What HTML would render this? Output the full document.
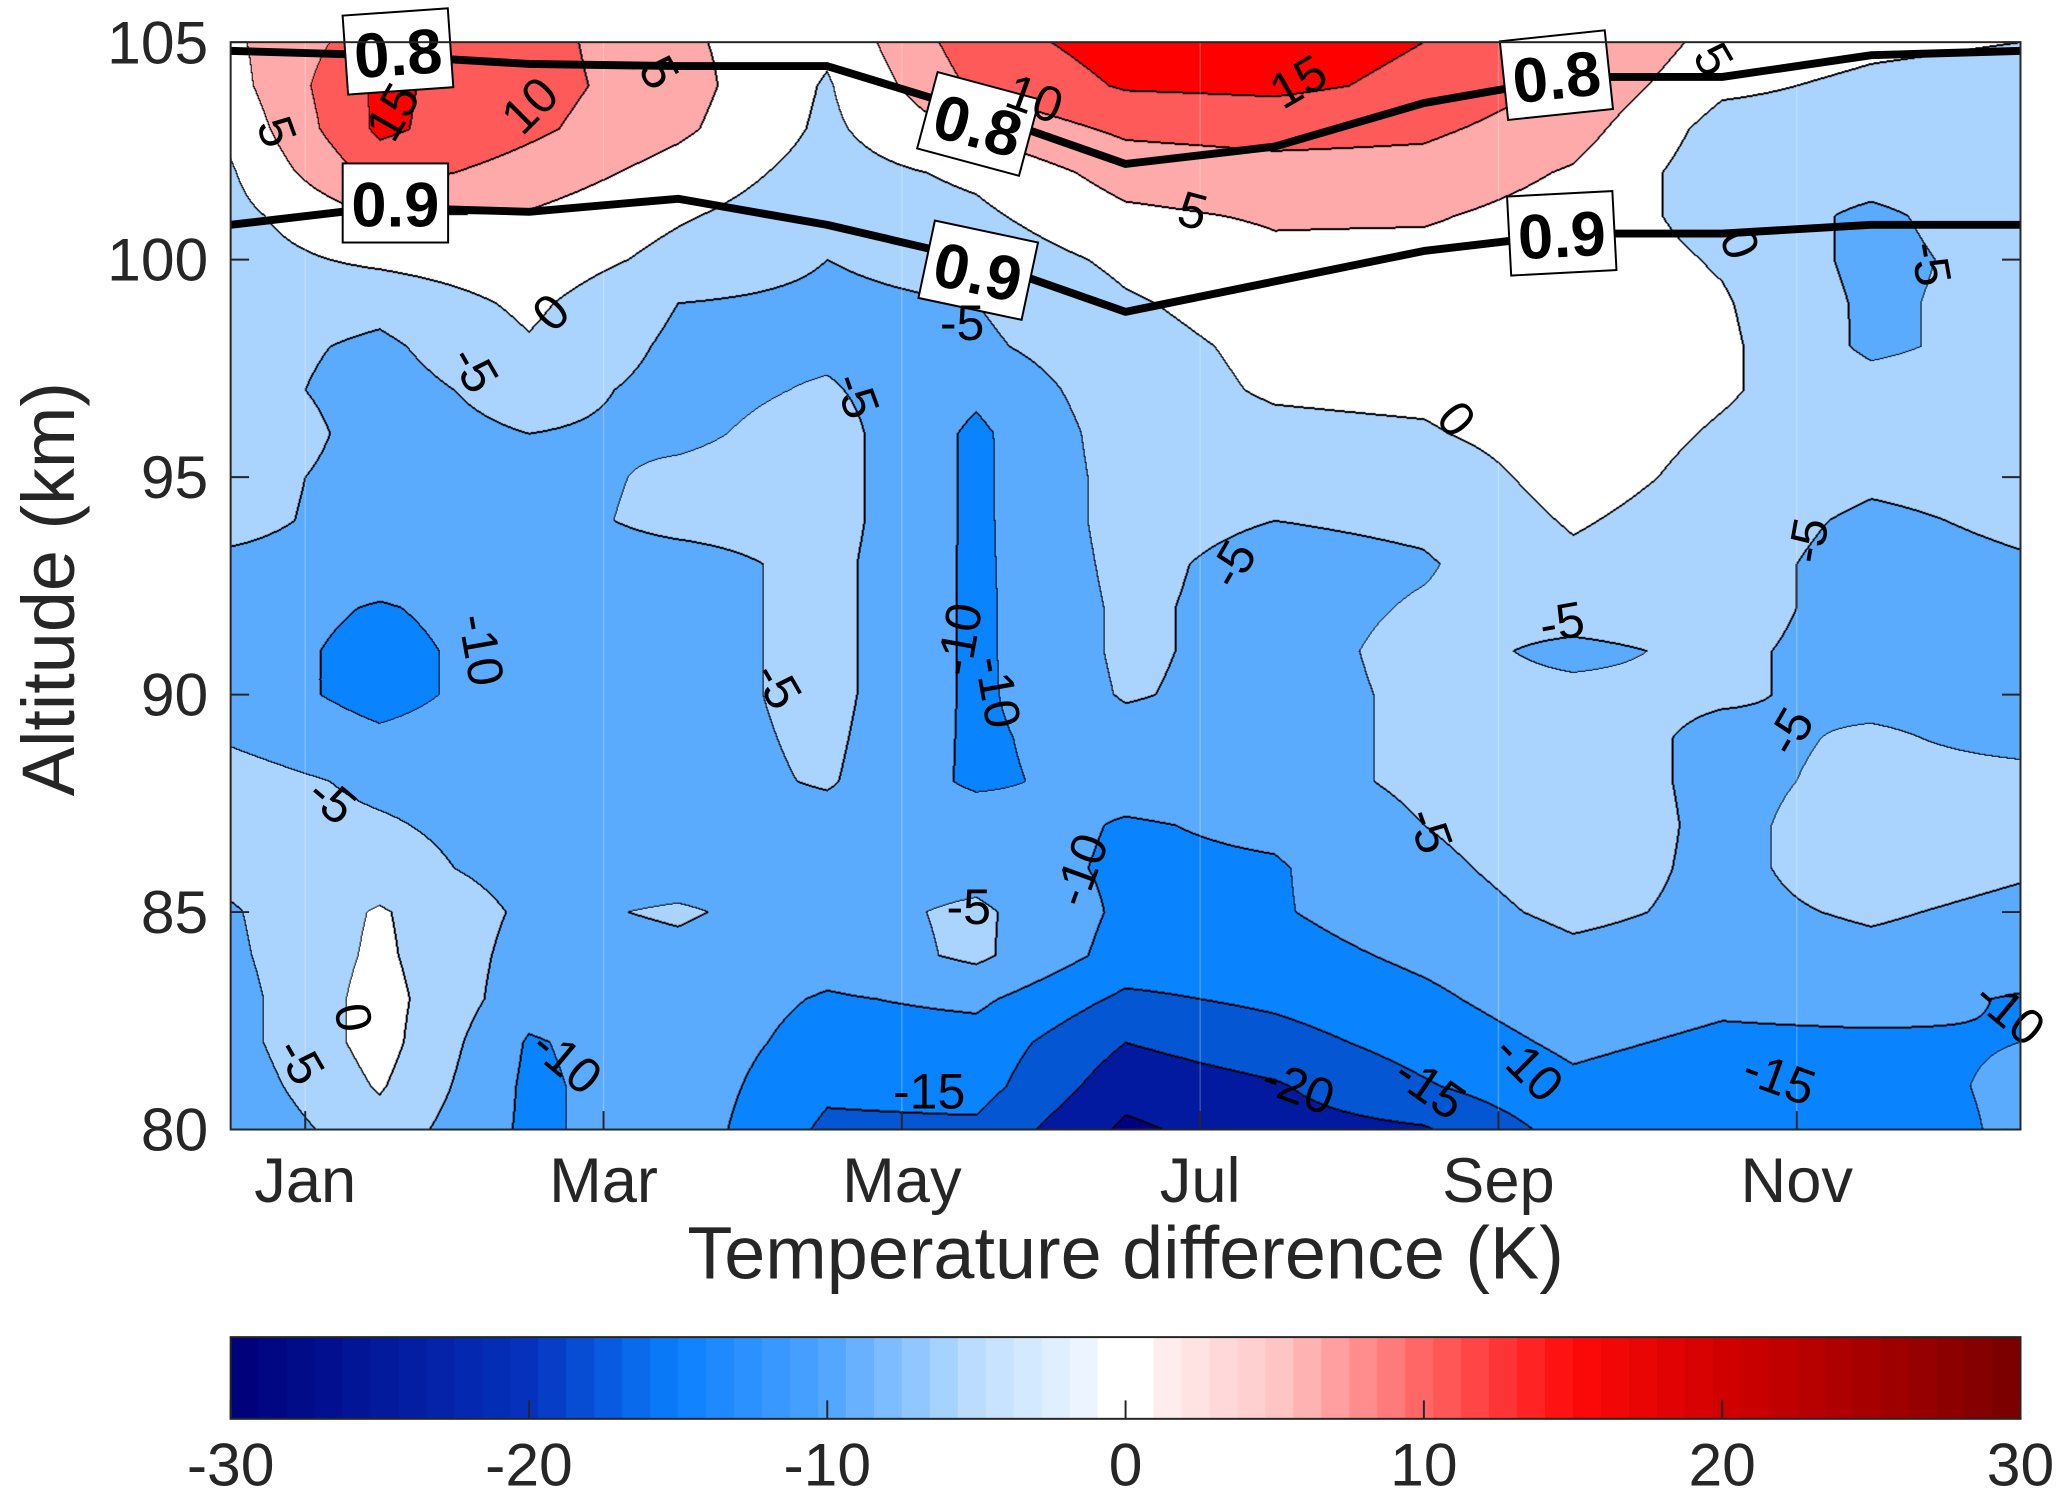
<!DOCTYPE html>
<html><head><meta charset="utf-8"><style>
html,body{margin:0;padding:0;background:#fff;width:2066px;height:1501px;overflow:hidden}
#wrap{position:absolute;left:0;top:0;width:1567px;height:1138px;overflow:hidden;transform:scale(1.318);transform-origin:0 0;font-family:"Liberation Sans",Arial,sans-serif;color:#262626}
#cv{position:absolute;left:175px;top:32px;width:1358px;height:825px}
svg{position:absolute;left:0;top:0}
</style></head><body>
<div id="wrap">
<canvas id="cv" width="1790" height="1088"></canvas>
<svg id="sv" width="1567" height="1138"></svg>
</div>
<script>
// altitudes 80..105 (1 km) per column, 13 columns from Jan (start) to Dec (end)
const altitudes=[80,81,82,83,84,85,86,87,88,89,90,91,92,93,94,95,96,97,98,99,100,101,102,103,104,105];
const col0=[-9,-8,-7,-7,-6,-5.5,-3.5,-3,-3,-5.5,-7,-7,-7,-6,-3.5,-3,-1,-3,-3,-2.5,-2,-1.5,-0.5,1,3,4];
const col1=[-2,0.5,2,2,1,0.5,-3,-4.5,-6,-9,-12,-12,-10.5,-7,-7,-7,-7,-7,-6,-3.5,1,5,12,16,16,13];
const col2=[-11,-11,-10.5,-8,-7,-6,-7,-7,-7,-7,-7,-7,-7,-7,-7,-7,-5,-3,-0.5,1,3,4.5,8,11,12,12];
const col3=[-7,-7,-7,-7,-6,-4.5,-7,-7,-7,-7,-7,-7,-7,-7,-3.5,-4,-6,-6.5,-6,-5,-1.5,0.5,3,6,7,6];
const col4=[-16,-14,-12,-10.5,-8,-7,-7,-7,-4.5,-4,-3.5,-3.5,-3.5,-3.5,-3,-3,-3,-4.5,-6,-6,-5,-3,-2,-1,-0.5,1];
const col5=[-16,-13,-12,-9,-4,-4,-7,-7,-11,-11,-11,-11,-11,-11,-11,-11,-11,-9,-6,-5,-3,-1,1,6,11,13];
const col6=[-26,-23,-20,-16,-12,-11,-11,-10.5,-8,-7,-4.5,-4,-4,-3.5,-3,-3,-2.5,-2,-1.5,-0.5,1,4,7,11,15.5,17];
const col7=[-22,-20.5,-17,-14,-12,-10.5,-10.5,-9,-7,-7,-7,-7,-7,-7,-5,-3,-1,0.5,1,2,4,5.5,8,12,16,17];
const col8=[-20.5,-15.5,-13,-11,-9,-7,-6,-5,-4,-4,-4,-3.5,-4.5,-5.5,-4,-3,-0.5,1,2,2.5,3.5,5.5,8,11,14,15];
const col9=[-13,-11,-9,-7,-6,-4,-3,-2.5,-3,-3,-4,-6,-3,-1,0.5,2,2.5,3,3,3,3,3,4.5,7,9,11];
const col10=[-15,-13,-11,-9,-7,-6,-6,-6,-6,-6,-4.5,-4,-3,-3,-2.5,-1.5,-0.5,0.5,1,0.5,-0.5,-2,-3,-2,1,3];
const col11=[-13,-12,-11,-8,-6,-4.5,-3,-3,-4,-4.5,-6,-7,-7,-7,-6,-4,-3,-3,-6,-6,-6.5,-6,-3,-2,-1,1];
const col12=[-9,-9,-10,-10.5,-7,-6,-4.5,-4,-4,-6,-6,-6,-6,-5.5,-4,-3,-2,-3,-3,-3,-3,-2,-2,-3,-2,0];
const columns=[col0,col1,col2,col3,col4,col5,col6,col7,col8,col9,col10,col11,col12];
// optical-depth contour lines (altitude at each column)
const line08=[104.8,104.7,104.5,104.45,104.45,103.4,102.2,102.6,103.6,104.2,104.2,104.7,104.8];
const line09=[100.8,101.2,101.1,101.4,100.8,100.0,98.8,99.5,100.2,100.6,100.6,100.8,100.8];
const monthLabels=["Jan","Mar","May","Jul","Sep","Nov"];
const monthPos=[0.5,2.5,4.5,6.5,8.5,10.5];
const altTicks=[80,85,90,95,100,105];
const cbTicks=[-30,-20,-10,0,10,20,30];

const PX0=175,PX1=1533,PY0=32,PY1=857;
const xS=c=>PX0+c*(PX1-PX0)/12;
const yS=a=>PY1-(a-80)*(PY1-PY0)/25;
const bandColors={"-6":"#000080","-5":"#021aa0","-4":"#0556d2","-3":"#0a84fe","-2":"#5aabfe","-1":"#aad4fe","0":"#ffffff","1":"#ffaaaa","2":"#ff5a5a","3":"#ff0000","4":"#c80000"};
function val(c,a){
  c=Math.max(0,Math.min(12,c));a=Math.max(0,Math.min(25,a));
  let i=Math.min(11,Math.floor(c)),j=Math.min(24,Math.floor(a));
  let fx=c-i,fy=a-j;
  let v00=columns[i][j],v10=columns[i+1][j],v01=columns[i][j+1],v11=columns[i+1][j+1];
  return v00*(1-fx)*(1-fy)+v10*fx*(1-fy)+v01*(1-fx)*fy+v11*fx*fy;
}
function band(v){let b=Math.floor(v/5);if(b<-6)b=-6;if(b>4)b=4;return b;}
function hex(h){return[parseInt(h.slice(1,3),16),parseInt(h.slice(3,5),16),parseInt(h.slice(5,7),16)];}
(function(){
  const cv=document.getElementById('cv'),ctx=cv.getContext('2d');
  const W=cv.width,H=cv.height;
  const img=ctx.createImageData(W,H);
  const B=new Int8Array(W*H);
  for(let y=0;y<H;y++)for(let x=0;x<W;x++){
    const c=(x+0.5)/W*12,a=25-(y+0.5)/H*25;
    B[y*W+x]=band(val(c,a));
  }
  const cache={};
  for(let y=0;y<H;y++)for(let x=0;x<W;x++){
    const k=y*W+x,b=B[k];
    let edge=(x<W-1&&B[k+1]!==b)||(y<H-1&&B[k+W]!==b)||(x>0&&B[k-1]!==b&&B[k-1]>b)||(y>0&&B[k-W]!==b&&B[k-W]>b);
    let col=edge?[0,0,0]:(cache[b]||(cache[b]=hex(bandColors[b])));
    img.data[k*4]=col[0];img.data[k*4+1]=col[1];img.data[k*4+2]=col[2];img.data[k*4+3]=255;
  }
  ctx.putImageData(img,0,0);
})();

const NS="http://www.w3.org/2000/svg";
const sv=document.getElementById('sv');
function mk(tag,attrs,parent){const e=document.createElementNS(NS,tag);for(const k in attrs)e.setAttribute(k,attrs[k]);(parent||sv).appendChild(e);return e;}
for(let i=0;i<monthPos.length;i++){
  const g=mk('line',{x1:xS(monthPos[i]),x2:xS(monthPos[i]),y1:PY0,y2:PY1,stroke:'rgba(255,255,255,0.25)','stroke-width':1});
  
}
function drawLine(arr,name){
  let d='';for(let i=0;i<arr.length;i++)d+=(i?'L':'M')+xS(i)+','+yS(arr[i]);
  const p=mk('path',{d:d,fill:'none',stroke:'#000','stroke-width':6,'stroke-linejoin':'round'});
  
}
drawLine(line08,'contour-line-0.8');drawLine(line09,'contour-line-0.9');
function boxLabel(txt,x,y,rot,name){
  const g=mk('g',{transform:`translate(${x},${y}) rotate(${rot})`});
  
  mk('rect',{x:-40,y:-31,width:80,height:60,fill:'#fff',stroke:'#000','stroke-width':1.5},g);
  const t=mk('text',{x:0,y:17,'text-anchor':'middle','font-size':48,'font-weight':'bold',fill:'#000'},g);t.textContent=txt;
}
boxLabel('0.8',302,40,-4,'label-0.8-a');boxLabel('0.9',300,155,0,'label-0.9-a');
boxLabel('0.8',742,95,15,'label-0.8-b');boxLabel('0.9',742,206,12,'label-0.9-b');
boxLabel('0.8',1181,58,-6,'label-0.8-c');boxLabel('0.9',1185,178,-3,'label-0.9-c');
const cl=[["5",210,100,70],["15",298,85,-60],["10",402,80,-45],["5",500,55,60],["10",785,75,20],["15",985,62,-30],["5",905,160,15],["5",1300,45,60],["0",418,237,-45],["-5",360,280,60],["-5",650,300,70],["-5",730,245,0],["0",1105,318,50],["0",1320,185,70],["-5",1465,200,80],["-5",935,428,-60],["-10",365,493,80],["-5",590,520,60],["-10",728,485,-80],["-10",757,525,80],["-5",1185,472,-10],["-5",1372,410,-80],["-5",1358,555,-60],["-5",252,607,40],["-5",1085,630,70],["-10",820,660,-70],["-5",735,688,0],["0",268,772,80],["-5",228,805,60],["-10",430,805,40],["-15",705,828,0],["-20",985,825,20],["-15",1085,825,35],["-10",1160,810,45],["-15",1350,818,20],["-10",1525,768,40]];
cl.forEach(c=>{const t=mk('text',{x:c[1],y:c[2],'text-anchor':'middle','dominant-baseline':'central','font-size':38,fill:'#000',transform:`rotate(${c[3]},${c[1]},${c[2]})`});t.textContent=c[0];
});
const fr=mk('rect',{x:PX0,y:PY0,width:PX1-PX0,height:PY1-PY0,fill:'none',stroke:'#262626','stroke-width':1.5});

altTicks.forEach(a=>{const y=yS(a);
  mk('line',{x1:PX0,x2:PX0+14,y1:y,y2:y,stroke:'#262626','stroke-width':1.5});mk('line',{x1:PX1-14,x2:PX1,y1:y,y2:y,stroke:'#262626','stroke-width':1.5});
  const t=mk('text',{x:158,y:y+16,'text-anchor':'end','font-size':46,fill:'#262626'});t.textContent=a;
  });
monthLabels.forEach((m,i)=>{const x=xS(monthPos[i]);
  mk('line',{x1:x,x2:x,y1:PY1,y2:PY1-14,stroke:'#262626','stroke-width':1.5});
  const t=mk('text',{x:x,y:912,'text-anchor':'middle','font-size':48,fill:'#262626'});t.textContent=m;
  });
let t=mk('text',{x:56,y:447,'text-anchor':'middle','font-size':56,fill:'#262626',transform:'rotate(-90,56,447)'});t.textContent='Altitude (km)';

t=mk('text',{x:854,y:970,'text-anchor':'middle','font-size':56,fill:'#262626'});t.textContent='Temperature difference (K)';

const CB0=1014.5,CB1=1076.5;
const stops=[[-30,[0,0,120]],[-20,[5,50,190]],[-15,[10,128,254]],[-10,[80,165,255]],[-5,[190,222,255]],[-1,[240,247,255]],[-0.94,[255,255,255]],[0.94,[255,255,255]],[1,[255,240,240]],[5,[255,200,200]],[10,[255,100,100]],[15,[255,10,10]],[20,[210,0,0]],[30,[120,0,0]]];
function cmap(v){for(let i=0;i<stops.length-1;i++){if(v<=stops[i+1][0]){const f=(v-stops[i][0])/(stops[i+1][0]-stops[i][0]);const a=stops[i][1],b=stops[i+1][1];return`rgb(${a.map((x,k)=>Math.round(x+(b[k]-x)*f)).join(',')})`;}}return'rgb(120,0,0)';}
const cbx=v=>PX0+(v+30)/60*(PX1-PX0);
const cbg=mk('g',{});
for(let i=0;i<64;i++){const v=-30+(i+0.5)*60/64;mk('rect',{x:cbx(-30+i*60/64),y:CB0,width:(PX1-PX0)/64+0.6,height:CB1-CB0,fill:cmap(v)},cbg);}
mk('rect',{x:PX0,y:CB0,width:PX1-PX0,height:CB1-CB0,fill:'none',stroke:'#262626','stroke-width':1.5},cbg);
cbTicks.forEach(v=>{const x=cbx(v);mk('line',{x1:x,x2:x,y1:CB1,y2:CB1-14,stroke:'#262626','stroke-width':1.5});
  const tt=mk('text',{x:x,y:1127,'text-anchor':'middle','font-size':46,fill:'#262626'});tt.textContent=v;
  });
</script>
</body></html>
